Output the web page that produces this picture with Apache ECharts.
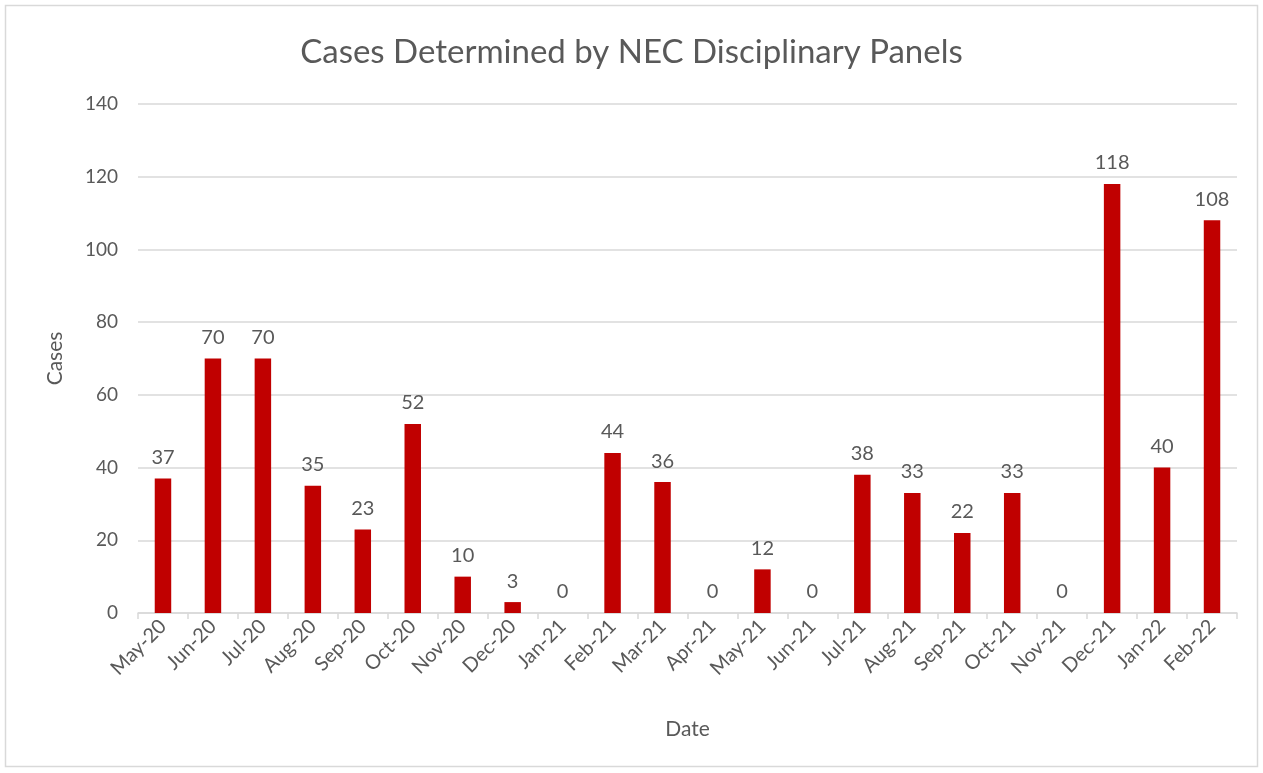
<!DOCTYPE html>
<html>
<head>
<meta charset="utf-8">
<script src="https://cdn.jsdelivr.net/npm/echarts@6/dist/echarts.min.js"></script>
<style>
html, body { margin: 0; padding: 0; background: #fff; }
#main { width: 1263px; height: 773px; }
</style>
</head>
<body>
<div id="main"></div>
<script>
const months = ['May-20', 'Jun-20', 'Jul-20', 'Aug-20', 'Sep-20', 'Oct-20', 'Nov-20', 'Dec-20',
    'Jan-21', 'Feb-21', 'Mar-21', 'Apr-21', 'May-21', 'Jun-21', 'Jul-21', 'Aug-21',
    'Sep-21', 'Oct-21', 'Nov-21', 'Dec-21', 'Jan-22', 'Feb-22'];
const cases = [37, 70, 70, 35, 23, 52, 10, 3, 0, 44, 36, 0, 12, 0, 38, 33, 22, 33, 0, 118, 40, 108];

let myChart = echarts.init(document.getElementById('main'));
let txt = '#595959';
let font = 'Lato';
let option = {
    backgroundColor: '#fff',
    textStyle: { fontFamily: font },
    title: {
        text: 'Cases Determined by NEC Disciplinary Panels',
        left: 'center',
        top: 31,
        textStyle: { fontFamily: font, fontSize: 33, fontWeight: 'normal', color: txt }
    },
    graphic: [{
        type: 'rect',
        shape: { x: 5.5, y: 5.5, width: 1252, height: 761 },
        style: { fill: 'none', stroke: '#d9d9d9', lineWidth: 1.5 },
        silent: true
    }],
    grid: { left: 138, right: 26, top: 104, bottom: 160 },
    xAxis: {
        type: 'category',
        data: months,
        name: 'Date',
        nameLocation: 'middle',
        nameGap: 106,
        nameTextStyle: { fontSize: 21, color: txt, fontFamily: font },
        axisLine: { lineStyle: { color: '#d9d9d9', width: 1.5 } },
        axisTick: { show: true, length: 6, lineStyle: { color: '#d9d9d9', width: 1.5 } },
        axisLabel: { rotate: 45, fontSize: 20, color: txt, fontFamily: font, margin: 10 }
    },
    yAxis: {
        type: 'value',
        min: 0,
        max: 140,
        interval: 20,
        name: 'Cases',
        nameLocation: 'middle',
        nameGap: 72,
        nameTextStyle: { fontSize: 21, color: txt, fontFamily: font },
        axisLine: { show: false },
        axisTick: { show: false },
        axisLabel: { fontSize: 19, color: txt, fontFamily: font, margin: 20 },
        splitLine: { lineStyle: { color: '#d9d9d9', width: 1.5 } }
    },
    series: [{
        type: 'bar',
        data: cases,
        barWidth: '33%',
        itemStyle: { color: '#c00000' },
        label: {
            show: true,
            position: 'top',
            distance: 11,
            fontSize: 20,
            color: txt,
            fontFamily: font
        }
    }]
};
myChart.setOption(option);
</script>
</body>
</html>
